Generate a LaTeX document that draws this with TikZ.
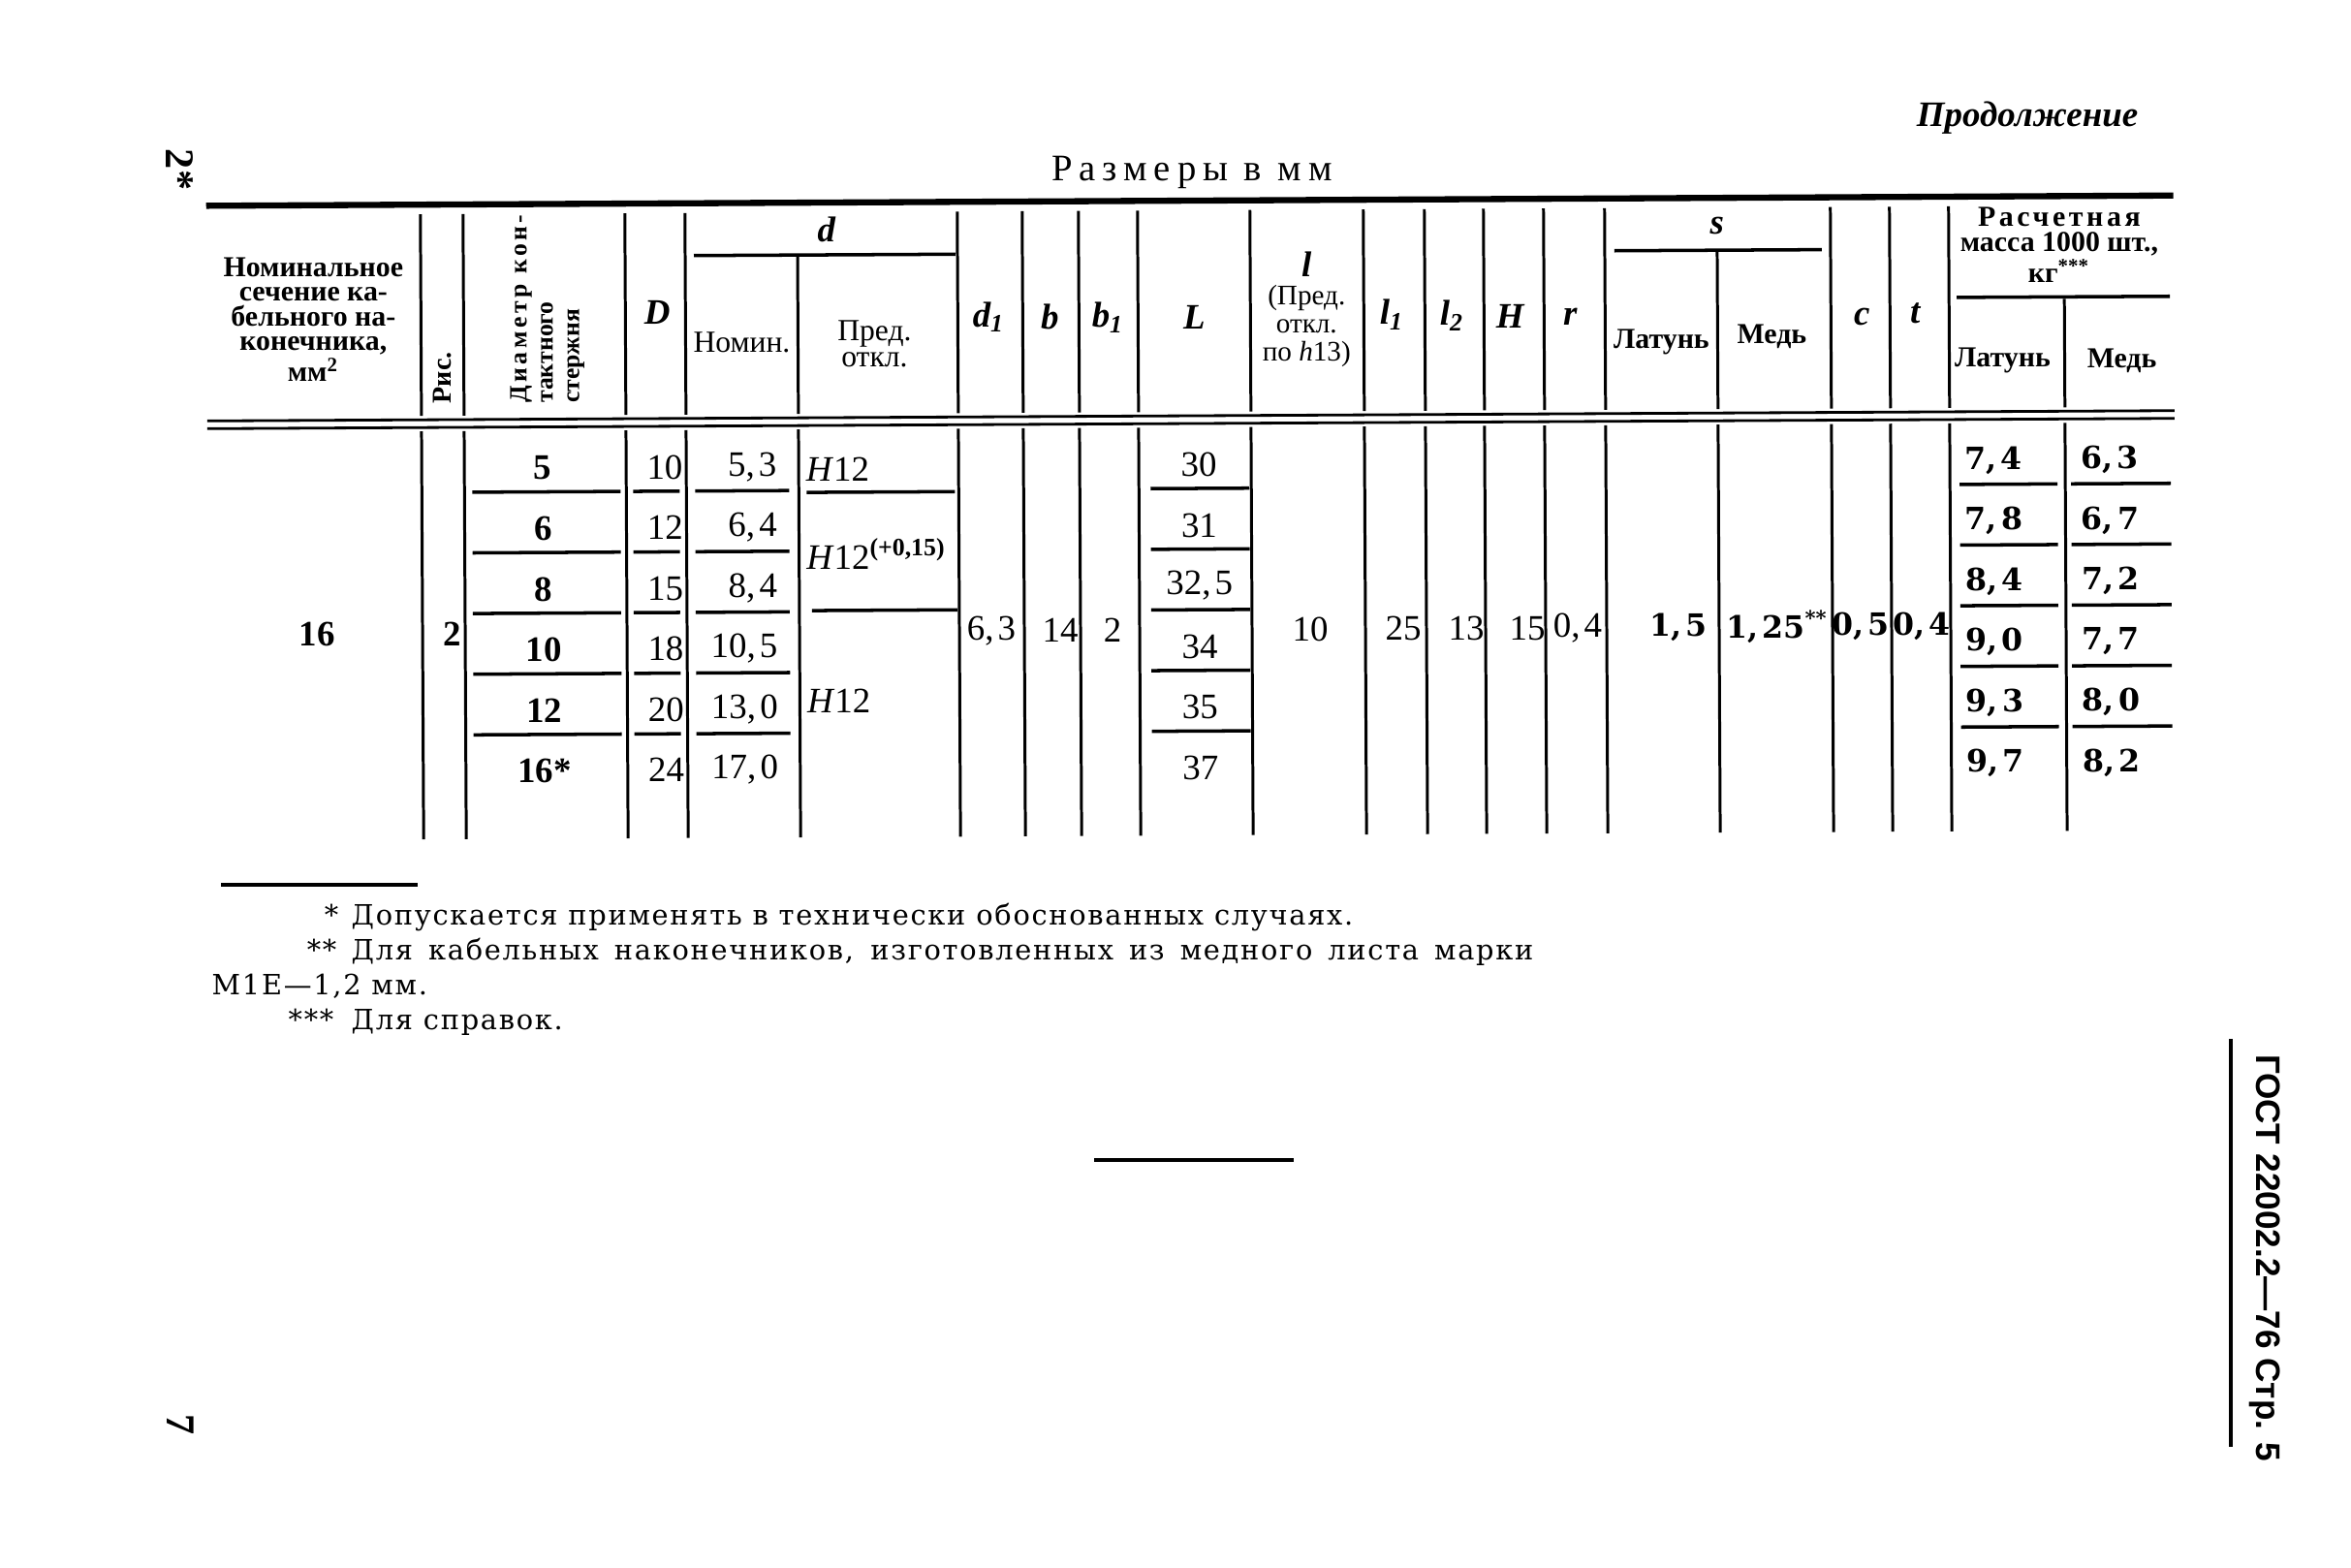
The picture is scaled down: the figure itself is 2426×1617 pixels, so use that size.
\documentclass[tikz,border=0pt]{standalone}
\usepackage{fontspec}
\setmainfont{Liberation Serif}
\newfontfamily\widefont{DejaVu Serif}
\newfontfamily\gostfont{Liberation Sans}
\newcommand\dc{,\kern1.2pt}
\newcommand\hdfont{\fontsize{8.5}{7.2}\selectfont\bfseries}
\newcommand\symfont{\fontsize{10.5}{12}\selectfont\bfseries\itshape}
\newcommand\valfont{\fontsize{10.5}{12}\selectfont}
\newcommand\massfont{\widefont\fontsize{9}{10}\selectfont\bfseries}
\newcommand\notefont{\widefont\fontsize{8.2}{9}\selectfont\addfontfeature{LetterSpace=6}}

\begin{document}
\begin{tikzpicture}[x=0.1mm, y=-0.1mm,
  vline/.style={line width=0.85pt},
  hrule/.style={line width=1pt},
  cell/.style={inner sep=0pt, font=\valfont},
  bcell/.style={inner sep=0pt, font=\valfont\bfseries},
  mcell/.style={inner sep=0pt, font=\massfont},
  sym/.style={inner sep=0pt, font=\symfont},
  hd/.style={inner sep=0pt, font=\hdfont, align=center},
  hdreg/.style={inner sep=0pt, font=\fontsize{9}{7.6}\selectfont, align=center},
  note/.style={inner sep=0pt, font=\notefont}]

\useasboundingbox (0,0) rectangle (2426,1617);
\fill[white] (0,0) rectangle (2426,1617);

\node[inner sep=0pt, font=\fontsize{10.5}{14}\selectfont\bfseries\itshape] (cont) at (2092,122) {Продолжение};
\node[inner sep=0pt, font=\fontsize{11}{12}\selectfont\addfontfeature{LetterSpace=18}] (units) at (1230,178) {Размеры в мм};
\node[rotate=-90, inner sep=0pt, font=\fontsize{12}{14}\selectfont\bfseries] (sig) at (185,175) {2*};
\node[rotate=-90, inner sep=0pt, font=\fontsize{12}{14}\selectfont\bfseries] (pgno) at (186,1470) {7};

\begin{scope}[rotate around={0.3:(1230,650)}]
  % rules
  \draw[line width=1.8pt] (215,207) -- (2245,207);
  \draw[line width=0.8pt] (215,429) -- (2245,429);
  \draw[line width=0.8pt] (215,437) -- (2245,437);

  % header
  \foreach \x in {436,480,647,709,990,1057,1115,1176,1292,1409,1472,1533,1595,1658,1891,1952,2013}
    \draw[vline] (\x,217) -- (\x,425);
  \draw[vline] (825,262) -- (825,425);
  \draw[vline] (1774,262) -- (1774,425);
  \draw[vline] (2132,313) -- (2132,425);
  \draw[hrule] (718,261) -- (988,261);
  \draw[hrule] (1668,261) -- (1882,261);
  \draw[hrule] (2021,311) -- (2241,311);

  \node[hd] (sechd) at (325,325) {Номинальное\\сечение ка-\\бельного на-\\конечника,\\мм\textsuperscript{2}};
  \node[hd, rotate=90, anchor=west, font=\fontsize{8}{7.7}\selectfont\bfseries] (rishd) at (458,413) {Рис.};
  \node[hd, rotate=90, anchor=west, align=left, font=\fontsize{7.3}{7.7}\selectfont\bfseries] (diahd) at (566,413)
    {{\addfontfeature{LetterSpace=14}Диаметр кон-}\\тактного\\стержня};
  \node[sym] (Dhd) at (680,320) {D};
  \node[sym] (dhd) at (855,235) {d};
  \node[hdreg] (nomhd) at (767,351) {Номин.};
  \node[hdreg] (predhd) at (904,353) {Пред.\\откл.};
  \node[sym] (d1hd) at (1022,326) {d\textsubscript{1}};
  \node[sym] (bhd) at (1085,326) {b};
  \node[sym] (b1hd) at (1145,327) {b\textsubscript{1}};
  \node[sym] (Lhd) at (1234,327) {L};
  \node[hdreg, font=\fontsize{8.3}{8.2}\selectfont] (lhd) at (1350,320) {{\symfont l}\\(Пред.\\откл.\\по \textit{h}13)};
  \node[sym] (l1hd) at (1438,326) {l\textsubscript{1}};
  \node[sym] (l2hd) at (1500,327) {l\textsubscript{2}};
  \node[sym] (Hhd) at (1560,328) {H};
  \node[sym] (rhd) at (1622,329) {r};
  \node[sym] (shd) at (1774,236) {s};
  \node[hd, font=\fontsize{8.5}{10}\selectfont\bfseries] (slat) at (1716,355) {Латунь};
  \node[hd, font=\fontsize{8.5}{10}\selectfont\bfseries] (smed) at (1830,350) {Медь};
  \node[sym] (chd) at (1923,331) {c};
  \node[sym] (thd) at (1978,327) {t};
  \node[hd, font=\fontsize{8.5}{7.4}\selectfont\bfseries] (masshd) at (2127,257)
    {{\addfontfeature{LetterSpace=12}Расчетная}\\масса 1000 шт.,\\кг\textsuperscript{***}};
  \node[hd, font=\fontsize{8.5}{10}\selectfont\bfseries] (mlat) at (2068,376) {Латунь};
  \node[hd, font=\fontsize{8.5}{10}\selectfont\bfseries] (mmed) at (2191,377) {Медь};

  % body
  \foreach \x in {436,480,647,709,825,990,1057,1115,1176,1292,1409,1472,1533,1595,1658,1774,1891,1952,2013,2132}
    \draw[vline] (\x,441) -- (\x,862);
  \foreach \k [evaluate=\k as \r using 504+62.6*(\k-1)] in {1,...,5} {
    \draw[hrule] (488,\r) -- (641,\r);
    \draw[hrule] (654,\r) -- (702,\r);
    \draw[hrule] (718,\r) -- (815,\r);
    \draw[hrule] (1188,\r) -- (1290,\r);
    \draw[hrule] (2023,\r) -- (2124,\r);
    \draw[hrule] (2138,\r) -- (2241,\r);
  }
  \draw[hrule] (833,506) -- (986,506);
  \draw[hrule] (838,628) -- (988,628);

  \foreach \dia/\dd/\dn/\len/\ml/\mm [count=\i, evaluate=\i as \y using 479.5+62.5*(\i-1)] in
    {5/10/5\dc3/30/7\dc4/6\dc3, 6/12/6\dc4/31/7\dc8/6\dc7, 8/15/8\dc4/32\dc5/8\dc4/7\dc2,
     10/18/10\dc5/34/9\dc0/7\dc7, 12/20/13\dc0/35/9\dc3/8\dc0, 16*/24/17\dc0/37/9\dc7/8\dc2} {
    \node[bcell] (dia\i) at (561,\y) {\dia};
    \node[cell, anchor=east] (D\i) at (706,\y) {\dd};
    \node[cell, anchor=east] (dn\i) at (803,\y) {\dn};
    \node[cell] (L\i) at (1238,\y) {\len};
    \node[mcell] (ml\i) at (2058,\y) {\ml};
    \node[mcell] (mm\i) at (2178,\y) {\mm};
  }
  \node[cell, anchor=west] (pr1) at (832,482) {\textit{H}12};
  \node[cell, anchor=west] (pr2) at (832,569) {\textit{H}12\textsuperscript{\bfseries(+0,15)}};
  \node[cell, anchor=west] (pr3) at (832,721) {\textit{H}12};

  \node[bcell] (sec) at (327,650) {16};
  \node[bcell, anchor=east] (ris) at (477,650) {2};
  \node[cell] (d1) at (1023,650) {6\dc3};
  \node[cell] (b) at (1094,650) {14};
  \node[cell] (b1) at (1148,650) {2};
  \node[cell] (l) at (1352,650) {10};
  \node[cell] (l1) at (1448,650) {25};
  \node[cell] (l2) at (1513,650) {13};
  \node[cell] (H) at (1576,650) {15};
  \node[cell] (r) at (1628,650) {0\dc4};
  \node[mcell] (slatv) at (1732,650) {1\dc5};
  \node[mcell] (smedv) at (1834,650) {1\dc25\textsuperscript{**}};
  \node[mcell] (c) at (1920,650) {0\dc5};
  \node[mcell] (t) at (1983,650) {0\dc4};
\end{scope}

% footnotes
\draw[line width=1pt] (228,913) -- (431,913);
\node[note, anchor=base east] (st1) at (350,954) {*};
\node[note, anchor=base west] (fn1) at (362,954) {Допускается применять в технически обоснованных случаях.};
\node[note, anchor=base east] (st2) at (348,990) {**};
\node[note, anchor=base west] (fn2) at (362,990)
  {\makebox[347pt][s]{Для кабельных наконечников, изготовленных из медного листа марки}};
\node[note, anchor=base west] (fn3) at (218,1026) {М1Е—1,2 мм.};
\node[note, anchor=base east] (st4) at (345,1062) {***};
\node[note, anchor=base west] (fn4) at (362,1062) {Для справок.};

\draw[line width=1pt] (1129,1197) -- (1335,1197);

\draw[line width=1.3pt] (2302,1072) -- (2302,1493);
\node[rotate=-90, inner sep=0pt, font=\gostfont\fontsize{10}{12}\selectfont\bfseries] (gost) at (2337,1298) {ГОСТ 22002.2—76 Стр. 5};
\end{tikzpicture}
\end{document}
